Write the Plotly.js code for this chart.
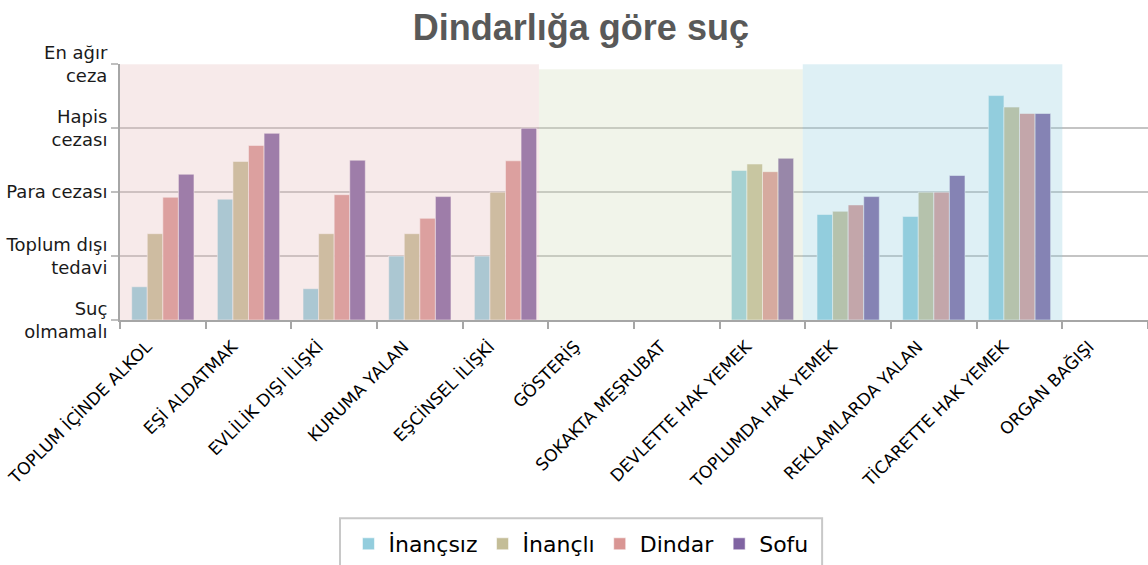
<!DOCTYPE html>
<html>
<head>
<meta charset="utf-8">
<script src="https://cdn.plot.ly/plotly-3.0.1.min.js"></script>
<style>html,body{margin:0;padding:0;background:#fff;}#chart{width:1148px;height:565px;}</style>
</head>
<body>
<div id="chart"></div>
<script>
const categories = ['TOPLUM İÇİNDE ALKOL','EŞİ ALDATMAK','EVLİLİK DIŞI İLİŞKİ','KURUMA YALAN','EŞCİNSEL İLİŞKİ','GÖSTERİŞ','SOKAKTA MEŞRUBAT','DEVLETTE HAK YEMEK','TOPLUMDA HAK YEMEK','REKLAMLARDA YALAN','TİCARETTE HAK YEMEK','ORGAN BAĞIŞI'];
const inancsiz = [0.52, 1.89, 0.49, 1.00, 1.00, null, null, 2.34, 1.65, 1.62, 3.51, null];
const inancli  = [1.35, 2.48, 1.35, 1.35, 2.00, null, null, 2.44, 1.70, 2.00, 3.33, null];
const dindar   = [1.92, 2.73, 1.96, 1.59, 2.49, null, null, 2.32, 1.80, 2.00, 3.23, null];
const sofu     = [2.28, 2.92, 2.50, 1.93, 3.00, null, null, 2.53, 1.93, 2.26, 3.23, null];
const seriesNames = ['İnançsız', 'İnançlı', 'Dindar', 'Sofu'];
const yTickVals = [0, 1, 2, 3, 4];
const yTickText = ['Suç<br>olmamalı', 'Toplum dışı<br>tedavi', 'Para cezası', 'Hapis<br>cezası', 'En ağır<br>ceza'];

const colors = ['#93CDDD', '#C4BD97', '#D99694', '#8064A2'];
const values = [inancsiz, inancli, dindar, sofu];

const traces = values.map((v, i) => ({
  type: 'bar',
  name: seriesNames[i],
  x: categories,
  y: v,
  marker: {color: colors[i], line: {color: 'rgba(255,255,255,0.55)', width: 1}},
  hoverinfo: 'x+y+name'
}));

const layout = {
  width: 1148,
  height: 565,
  margin: {l: 120, r: 0, t: 64, b: 244, pad: 0},
  paper_bgcolor: '#ffffff',
  plot_bgcolor: '#ffffff',
  barmode: 'group',
  bargap: 0.273,
  bargroupgap: 0,
  title: {
    text: 'Dindarlığa göre suç',
    font: {family: 'Liberation Sans, Arial, sans-serif', size: 36, weight: 'bold', color: '#595959'},
    xref: 'container', x: 0.506, xanchor: 'center',
    yref: 'container', y: 0.952, yanchor: 'middle'
  },
  xaxis: {
    type: 'category',
    range: [-0.5, 11.5],
    tickson: 'boundaries',
    ticks: 'outside', ticklen: 7, tickwidth: 2, tickcolor: '#A6A6A6',
    showline: true, linecolor: '#A6A6A6', linewidth: 2,
    showgrid: false,
    tickangle: -45,
    ticklabelshift: -16,
    ticklabelstandoff: 8,
    tickfont: {family: 'DejaVu Sans, sans-serif', size: 17, color: '#000'},
    fixedrange: true
  },
  yaxis: {
    range: [0, 4.004],
    tickmode: 'array', tickvals: yTickVals, ticktext: yTickText,
    ticks: 'outside', ticklen: 7, tickwidth: 2, tickcolor: '#BFBFBF',
    showgrid: true, gridcolor: '#C4C4C4', gridwidth: 2,
    showline: true, linecolor: '#A6A6A6', linewidth: 2,
    zeroline: false,
    tickfont: {family: 'DejaVu Sans, sans-serif', size: 18, color: '#1a1a1a'},
    fixedrange: true
  },
  showlegend: true,
  legend: {
    orientation: 'h',
    x: 0.4484, xanchor: 'center',
    y: -0.8755, yanchor: 'middle',
    bgcolor: 'rgba(0,0,0,0)', borderwidth: 0,
    font: {family: 'DejaVu Sans, sans-serif', size: 22, color: '#000'},
    itemwidth: 30
  },
  shapes: [
    {type: 'rect', xref: 'x', yref: 'y', x0: -0.5, x1: 4.39, y0: 0, y1: 4, layer: 'above',
     fillcolor: 'rgba(230,185,184,0.3)', line: {width: 0}},
    {type: 'rect', xref: 'x', yref: 'y', x0: 4.39, x1: 7.47, y0: 0, y1: 3.92, layer: 'above',
     fillcolor: 'rgba(210,220,185,0.3)', line: {width: 0}},
    {type: 'rect', xref: 'x', yref: 'y', x0: 7.47, x1: 10.5, y0: 0, y1: 4, layer: 'above',
     fillcolor: 'rgba(147,205,221,0.3)', line: {width: 0}},
    {type: 'rect', xref: 'paper', yref: 'paper', x0: 0.214, x1: 0.683, y0: -0.7743, y1: -1.01, layer: 'below',
     fillcolor: 'rgba(0,0,0,0)', line: {color: '#C8C8C8', width: 2}}
  ]
};

Plotly.newPlot('chart', traces, layout, {displayModeBar: false, staticPlot: false});
</script>
</body>
</html>
